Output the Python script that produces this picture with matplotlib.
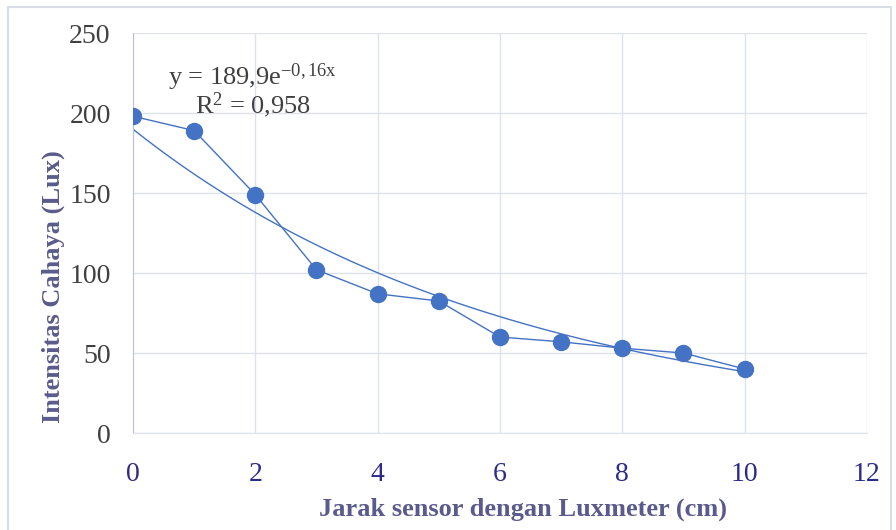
import matplotlib
matplotlib.use("Agg")
import matplotlib.pyplot as plt
import numpy as np
from matplotlib.patches import Rectangle

plt.rcParams["font.family"] = ["Liberation Serif", "DejaVu Serif"]
plt.rcParams["mathtext.fontset"] = "custom"
plt.rcParams["mathtext.rm"] = "Liberation Serif"
plt.rcParams["mathtext.it"] = "Liberation Serif:italic"

# measured data
jarak = [0, 1, 2, 3, 4, 5, 6, 7, 8, 9, 10]
intensitas = [198, 189, 149, 102, 87, 82.5, 60, 57, 53, 50, 40]

# exponential trendline as shown on the chart
A_FIT = 189.9
B_FIT = -0.16
EQ_LINE1 = r"y = 189,9e$^{\mathregular{-0,16x}}$"
EQ_LINE2 = r"R$^{\mathregular{2}}$ = 0,958"

BLUE = "#4472C4"
GRID = "#DDE3EC"

fig = plt.figure(figsize=(8.96, 5.30), dpi=100)
ax = fig.add_axes([0.1484, 0.183, 0.8192, 0.7547])

x_fit = np.linspace(0, 10, 200)
ax.plot(x_fit, A_FIT * np.exp(B_FIT * x_fit), color=BLUE, lw=1.0)
ax.plot(jarak, intensitas, color=BLUE, lw=1.0, marker="o", ms=11.5,
        markerfacecolor=BLUE, markeredgecolor=BLUE, zorder=3)

ax.set_xlim(0, 12)
ax.set_ylim(0, 250)
ax.set_xticks(range(0, 13, 2))
ax.set_yticks(range(0, 251, 50))
ax.grid(True, color=GRID, lw=1.0)
ax.set_axisbelow(True)
ax.tick_params(length=0)
ax.tick_params(axis="y", labelsize=20, labelcolor="#404040", pad=16)
ax.tick_params(axis="x", labelsize=20, labelcolor="#2B2B8A", pad=21)
for s in ("top", "right"):
    ax.spines[s].set_visible(False)
ax.spines["left"].set_color("#B8C4D8")
ax.spines["bottom"].set_color(GRID)

ax.set_xlabel("Jarak sensor dengan Luxmeter (cm)", fontsize=19,
              fontweight="bold", color="#5A5A8C", va="center")
ax.xaxis.set_label_coords(0.531, -0.19)
ax.set_ylabel("Intensitas Cahaya (Lux)", fontsize=19,
              fontweight="bold", color="#5A5A8C", va="center")
ax.yaxis.set_label_coords(-0.109, 0.365)

ax.text(1.96, 222.5, EQ_LINE1, fontsize=19, color="#404040",
        ha="center", va="center")
ax.text(1.96, 205, EQ_LINE2, fontsize=19, color="#404040",
        ha="center", va="center")

fig.patches.append(Rectangle((0.009, -0.01), 0.985, 0.997,
                             transform=fig.transFigure, fill=False,
                             edgecolor="#D9DEE6", lw=1.5))

fig.savefig("out.png", dpi=100)
